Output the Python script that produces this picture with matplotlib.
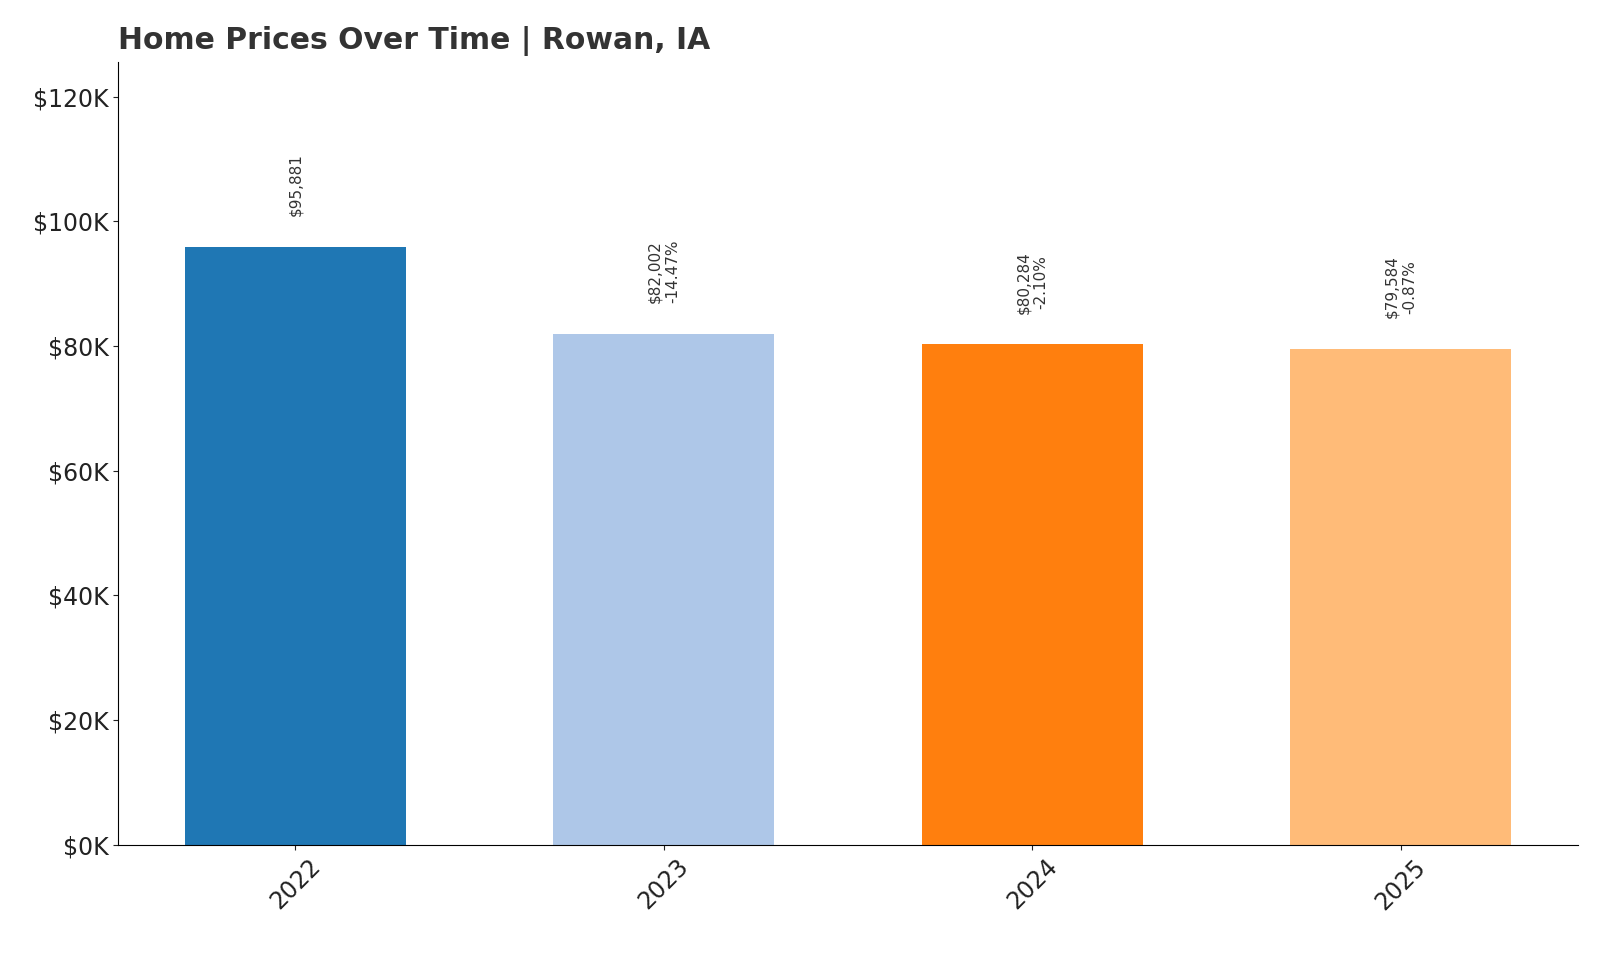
import matplotlib
matplotlib.use('Agg')
import matplotlib.pyplot as plt
from matplotlib.ticker import FuncFormatter

years = ['2022', '2023', '2024', '2025']
prices = [95881, 82002, 80284, 79584]
changes = [None, '-14.47%', '-2.10%', '-0.87%']
colors = ['#1f77b4', '#aec7e8', '#ff7f0e', '#ffbb78']

fig, ax = plt.subplots(figsize=(16, 9.6), dpi=100)
fig.subplots_adjust(left=0.074, right=0.986, top=0.935, bottom=0.12)

x = range(len(years))
ax.bar(x, prices, width=0.6, color=colors)

for i, (p, c) in enumerate(zip(prices, changes)):
    label = f'${p:,}' if c is None else f'${p:,}\n{c}'
    ax.annotate(label, (i, p), xytext=(0, 22), textcoords='offset points',
                rotation=90, ha='center', va='bottom', fontsize=11, color='#333333')

ax.set_xticks(list(x))
ax.set_xticklabels(years, rotation=45)
ax.set_ylim(0, 125500)
ax.set_yticks(range(0, 120001, 20000))
ax.yaxis.set_major_formatter(FuncFormatter(lambda v, _: f'${v/1000:.0f}K'))
ax.tick_params(axis='both', labelsize=17, colors='#222222')
ax.spines['top'].set_visible(False)
ax.spines['right'].set_visible(False)
ax.set_title('Home Prices Over Time | Rowan, IA', loc='left', fontsize=21.5,
             fontweight='bold', color='#333333', pad=10)

fig.savefig('out.png')
